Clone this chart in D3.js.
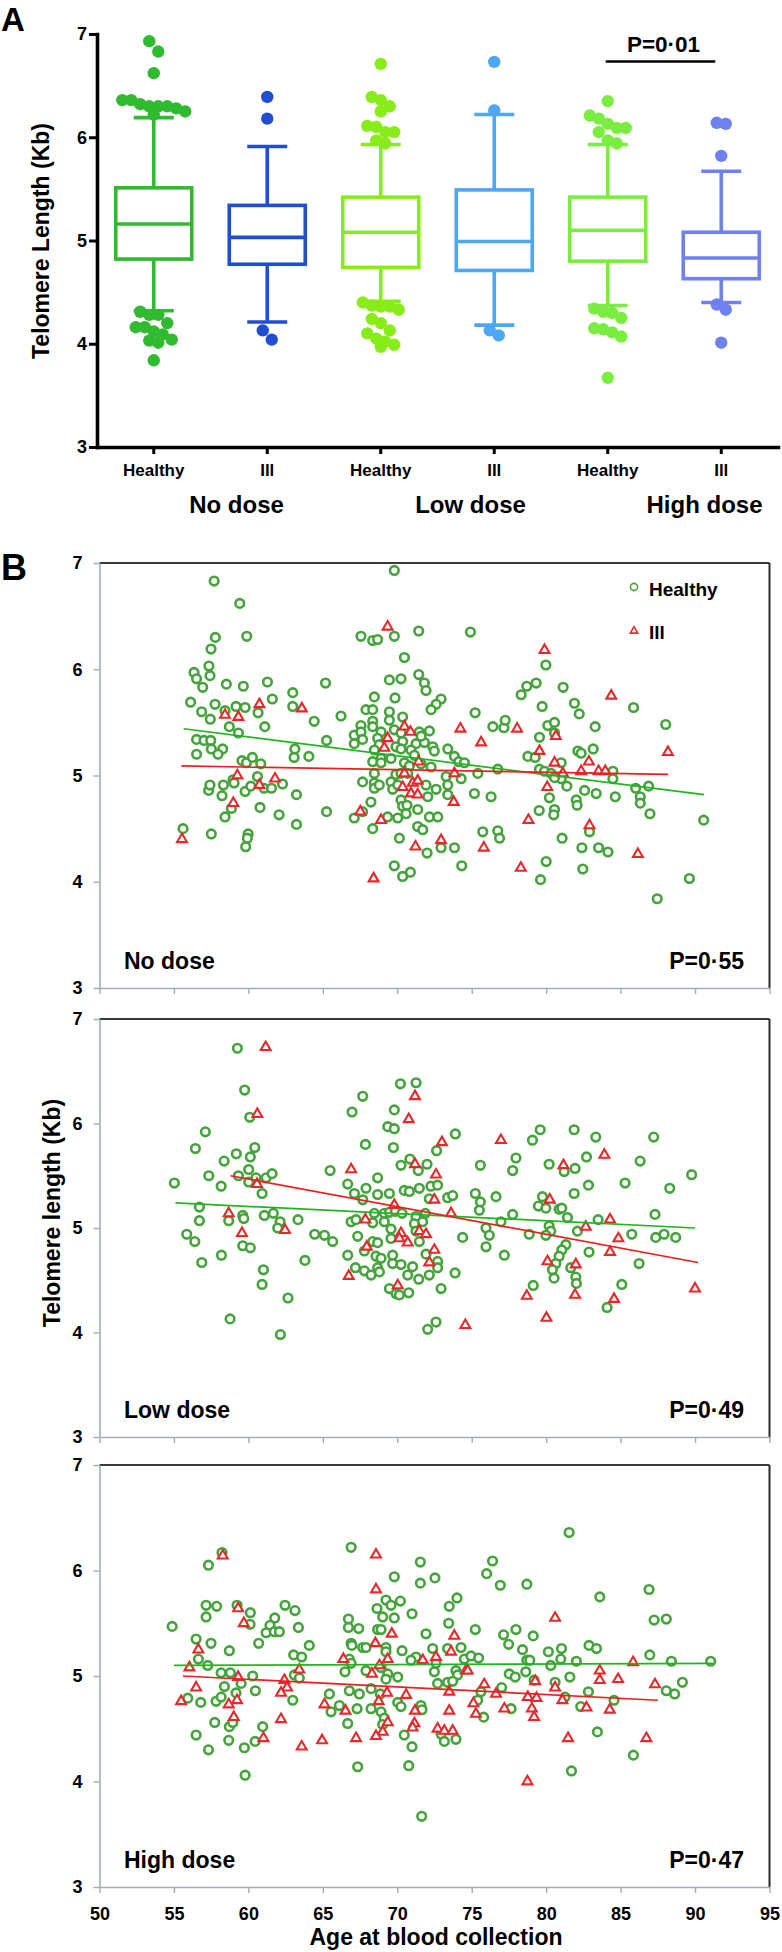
<!DOCTYPE html>
<html><head><meta charset="utf-8">
<script src="https://cdn.jsdelivr.net/npm/d3@7"></script>
<style>
html,body{margin:0;padding:0;background:#fff;}
svg{display:block;}
</style></head><body>
<svg id="chart" width="782" height="1952"></svg>
<script>
// ================= DATA =================
// Panel A (box plots)
const doseGroups = ["No dose", "Low dose", "High dose"];
const boxCategories = ["Healthy", "Ill", "Healthy", "Ill", "Healthy", "Ill"];
const whiskerHigh = [6.19, 5.91, 5.93, 6.22, 5.93, 5.67];
const q3Values = [5.51, 5.34, 5.42, 5.49, 5.42, 5.08];
const medianValues = [5.16, 5.03, 5.08, 4.99, 5.10, 4.83];
const q1Values = [4.82, 4.77, 4.74, 4.71, 4.80, 4.63];
const whiskerLow = [4.32, 4.21, 4.41, 4.18, 4.37, 4.40];
const outNoHealthy = [6.93, 6.83, 6.62, 6.36, 6.36, 6.32, 6.30, 6.30, 6.30, 6.28, 6.25, 6.22,
  4.31, 4.28, 4.28, 4.20, 4.16, 4.16, 4.12, 4.09, 4.04, 4.03, 4.01, 3.84];
const outNoIll = [6.39, 6.18, 4.13, 4.04];
const outLowHealthy = [6.71, 6.39, 6.36, 6.30, 6.25, 6.11, 6.10, 6.05, 6.05, 5.97, 5.94,
  4.40, 4.37, 4.36, 4.36, 4.33, 4.24, 4.20, 4.13, 4.10, 4.05, 4.02, 3.99, 3.97];
const outLowIll = [6.73, 6.26, 4.13, 4.08];
const outHighHealthy = [6.35, 6.21, 6.18, 6.13, 6.09, 6.09, 6.05, 5.97, 5.94,
  4.34, 4.31, 4.30, 4.25, 4.15, 4.14, 4.11, 4.07, 3.67];
const outHighIll = [6.14, 6.13, 5.82, 4.38, 4.33, 4.01];
const yTicksA = [3, 4, 5, 6, 7];
const pValueA = "P=0\u00b701";

// Panel B (scatter: [age, telomere length])
const noDoseHealthy = [[57.7,6.83],[59.42,6.62],[57.78,6.30],[59.89,6.31],[57.49,6.19],[56.35,5.97],[56.52,5.91],[57.35,6.03],[57.42,5.94],[56.93,5.83],[58.52,5.86],[59.66,5.84],[61.28,5.88],[56.12,5.69],[56.86,5.60],[57.76,5.67],[58.43,5.61],[59.17,5.65],[59.78,5.64],[57.44,5.53],[58.72,5.46],[59.33,5.40],[60.65,5.59],[61.10,5.46],[61.61,5.72],[62.98,5.78],[62.98,5.65],[64.42,5.51],[56.52,5.34],[57.02,5.33],[57.47,5.33],[57.51,5.25],[58.27,5.25],[56.52,5.20],[57.96,5.20],[63.12,5.25],[63.07,5.17],[64.06,5.18],[59.57,5.14],[59.87,5.12],[60.27,5.17],[60.83,5.11],[58.97,4.96],[60.61,4.99],[57.33,4.86],[57.42,4.91],[58.32,4.91],[58.23,4.81],[59.04,4.93],[59.78,4.85],[60.16,4.90],[61.05,4.88],[61.55,4.88],[62.29,4.92],[63.23,4.82],[58.86,4.69],[58.43,4.61],[60.78,4.70],[62.06,4.63],[63.23,4.54],[55.61,4.50],[57.51,4.45],[59.98,4.45],[59.93,4.41],[59.82,4.33],
[67.56,6.31],[68.35,6.27],[68.68,6.28],[69.80,6.31],[71.44,6.36],[74.91,6.35],[70.48,6.11],[65.18,5.87],[69.47,5.90],[70.25,5.91],[71.44,5.95],[71.82,5.87],[71.93,5.80],[68.46,5.74],[69.85,5.73],[72.94,5.72],[72.61,5.67],[72.27,5.62],[67.90,5.62],[68.35,5.62],[66.22,5.56],[69.47,5.60],[69.47,5.52],[70.36,5.55],[68.35,5.51],[68.35,5.46],[75.23,5.59],[76.42,5.46],[77.16,5.45],[77.25,5.52],[67.56,5.47],[67.11,5.38],[67.56,5.41],[68.91,5.41],[69.80,5.43],[70.25,5.40],[71.48,5.41],[72.16,5.42],[65.25,5.33],[67.11,5.30],[67.67,5.34],[68.68,5.35],[68.79,5.29],[70.36,5.32],[71.26,5.30],[71.82,5.31],[71.60,5.37],[72.38,5.27],[72.49,5.23],[73.39,5.25],[73.84,5.18],[74.13,5.13],[74.51,5.12],[68.46,5.24],[69.91,5.27],[70.25,5.25],[70.92,5.24],[71.15,5.19],[68.91,5.16],[69.58,5.16],[68.35,5.13],[68.91,5.12],[70.48,5.12],[70.81,5.09],[71.60,5.11],[72.27,5.08],[75.41,5.02],[76.75,5.06],[73.28,4.99],[74.29,4.97],[68.46,5.02],[69.91,5.01],[70.25,5.02],[70.70,5.02],[67.67,4.94],[68.46,4.93],[68.46,4.88],[68.79,4.91],[69.58,4.94],[69.69,4.87],[70.03,4.91],[71.93,4.91],[72.61,4.87],[73.39,4.91],[73.39,4.82],[75.18,4.83],[76.30,4.80],[68.23,4.75],[70.25,4.77],[70.36,4.71],[70.65,4.72],[72.05,4.80],[71.37,4.68],[65.25,4.66],[67.11,4.60],[67.67,4.66],[69.35,4.61],[70.03,4.60],[70.59,4.64],[72.16,4.61],[72.72,4.61],[71.37,4.52],[71.71,4.49],[68.35,4.50],[70.14,4.41],[75.74,4.47],[76.75,4.48],[76.87,4.41],[72.00,4.27],[72.94,4.32],[73.84,4.32],[69.80,4.15],[70.36,4.05],[70.88,4.09],[74.33,4.15],[69.8,6.93],
[79.98,6.04],[81.14,5.83],[78.32,5.76],[78.70,5.84],[79.33,5.87],[79.73,5.65],[81.90,5.68],[82.22,5.58],[83.29,5.46],[85.87,5.64],[88.03,5.48],[79.55,5.36],[80.11,5.47],[80.56,5.50],[80.56,5.40],[82.13,5.23],[82.35,5.21],[83.16,5.25],[78.77,5.18],[79.26,5.17],[79.55,5.06],[79.89,5.04],[80.33,5.02],[81.01,5.12],[81.01,4.97],[80.56,4.98],[81.39,4.90],[82.58,4.86],[83.36,4.83],[84.48,5.04],[84.48,4.97],[84.64,4.80],[86.01,4.88],[86.32,4.80],[86.32,4.74],[86.88,4.90],[86.97,4.64],[90.58,4.58],[79.53,4.67],[80.56,4.68],[80.51,4.63],[80.22,4.79],[82.02,4.77],[82.08,4.72],[82.91,4.47],[81.07,4.41],[82.40,4.32],[83.52,4.32],[84.15,4.28],[80.00,4.19],[79.62,4.02],[82.46,4.12],[87.46,3.84],[89.62,4.03]];
const noDoseIll = [[58.43,5.57],[59.33,5.55],[60.74,5.67],[63.59,5.63],[59.26,5.00],[60.74,4.91],[61.79,4.97],[58.99,4.74],[55.54,4.40],
[69.35,6.40],[70.48,5.46],[70.88,5.41],[74.24,5.44],[75.63,5.31],[78.05,5.44],[69.35,5.35],[69.13,5.26],[71.44,5.13],[70.48,5.02],[73.84,5.02],[71.04,4.93],[71.37,4.95],[70.36,4.89],[70.92,4.83],[71.37,4.82],[73.79,4.75],[67.52,4.66],[68.91,4.58],[72.94,4.39],[71.22,4.33],[75.81,4.32],[68.41,4.03],
[79.89,6.18],[84.37,5.75],[80.65,5.37],[79.55,5.23],[80.56,5.12],[82.87,5.13],[82.35,5.04],[83.52,5.04],[83.97,5.04],[81.12,5.02],[80.07,4.89],[82.91,4.53],[78.81,4.58],[78.3,4.13],[86.16,4.26],[88.18,5.22]];
const lowDoseHealthy = [[59.26,6.72],[59.75,6.32],[60.09,6.06],[57.11,5.92],[56.44,5.76],[60.43,5.77],[59.19,5.71],[60.13,5.68],[58.37,5.64],[57.34,5.50],[59.33,5.50],[60.02,5.56],[60.02,5.44],[60.51,5.48],[61.19,5.48],[61.59,5.52],[55.03,5.43],[58.17,5.40],[60.92,5.33],[56.71,5.20],[56.71,5.07],[58.68,5.07],[59.62,5.12],[59.69,5.09],[61.07,5.12],[61.68,5.14],[62.13,5.06],[61.97,5.00],[63.33,5.08],[55.86,4.94],[56.40,4.87],[59.62,4.83],[60.13,4.81],[64.45,4.94],[58.19,4.74],[56.87,4.67],[61.01,4.60],[60.92,4.46],[62.66,4.33],[63.80,4.69],[58.77,4.13],[62.15,3.98],
[70.21,6.38],[71.26,6.39],[67.68,6.26],[66.96,6.11],[69.80,6.13],[69.36,5.97],[69.80,5.95],[73.90,5.90],[67.86,5.80],[69.74,5.77],[72.64,5.74],[70.85,5.66],[70.25,5.60],[72.00,5.61],[71.41,5.55],[75.58,5.60],[77.97,5.67],[77.75,5.55],[65.49,5.55],[68.68,5.48],[66.67,5.42],[67.90,5.38],[67.12,5.33],[68.68,5.32],[69.47,5.33],[70.47,5.36],[70.81,5.35],[71.48,5.38],[72.26,5.40],[72.71,5.41],[73.38,5.29],[73.72,5.31],[72.15,5.28],[75.24,5.33],[75.58,5.25],[75.51,5.17],[76.63,5.30],[67.68,5.27],[68.46,5.14],[69.13,5.14],[69.47,5.15],[69.87,5.16],[70.32,5.14],[71.26,5.11],[71.88,5.14],[66.90,5.06],[67.23,5.08],[71.15,5.04],[71.70,5.06],[77.75,5.13],[76.96,5.06],[65.11,4.93],[67.34,4.92],[68.35,5.05],[69.13,5.06],[69.58,4.99],[69.58,4.90],[71.26,4.97],[71.48,4.87],[74.39,4.91],[75.96,5.00],[76.18,4.93],[65.66,4.87],[67.79,4.78],[68.35,4.87],[68.68,4.86],[71.93,4.75],[72.71,4.68],[66.67,4.74],[68.57,4.73],[68.91,4.71],[69.69,4.74],[69.69,4.66],[68.68,4.62],[70.25,4.65],[71.03,4.63],[72.15,4.55],[72.71,4.62],[67.19,4.62],[67.79,4.59],[68.24,4.55],[68.80,4.58],[70.70,4.55],[71.44,4.51],[73.88,4.57],[69.47,4.42],[69.92,4.37],[70.14,4.36],[70.77,4.38],[72.94,4.42],[75.96,4.82],[77.19,4.74],[72.60,4.10],[72.04,4.03],
[79.08,5.84],[79.60,5.94],[81.88,5.94],[83.33,5.87],[87.22,5.87],[80.20,5.61],[81.94,5.57],[81.21,5.54],[82.71,5.68],[82.84,5.41],[85.30,5.43],[86.31,5.64],[88.30,5.38],[89.77,5.51],[81.88,5.33],[79.75,5.30],[79.48,5.21],[79.98,5.19],[80.87,5.18],[81.05,5.19],[81.43,5.10],[83.49,5.08],[87.31,5.13],[78.86,4.94],[80.20,5.02],[80.31,4.97],[79.98,4.93],[82.10,4.97],[81.32,4.84],[81.05,4.79],[80.87,4.73],[80.65,4.66],[80.42,4.60],[80.53,4.52],[81.65,4.62],[81.99,4.53],[82.03,4.47],[82.88,4.77],[85.75,4.94],[87.36,4.91],[87.92,4.94],[88.70,4.91],[86.24,4.66],[85.08,4.46],[79.13,4.45],[84.09,4.24]];
const lowDoseIll = [[61.16,6.73],[60.60,6.09],[58.68,5.14],[59.57,4.95],[62.46,4.98],[60.58,5.42],
[71.19,6.26],[70.77,6.04],[73.00,5.82],[76.96,5.84],[66.90,5.56],[71.19,5.61],[72.60,5.51],[72.49,5.27],[69.80,5.22],[73.61,5.14],[67.86,5.08],[70.25,4.95],[70.14,4.90],[70.70,4.86],[71.48,4.97],[71.93,4.94],[67.95,4.82],[72.49,4.79],[72.15,4.67],[66.74,4.54],[70.03,4.45],[74.57,4.07],
[81.16,5.60],[83.91,5.70],[80.24,5.27],[82.66,5.01],[84.29,5.08],[84.85,4.90],[84.29,4.77],[80.09,4.68],[81.99,4.65],[81.94,4.36],[78.70,4.35],[84.56,4.32],[80.02,4.14],[90.00,4.42]];
const highDoseHealthy = [[58.23,6.17],[57.32,6.05],[54.88,5.47],[57.16,5.67],[57.87,5.66],[57.16,5.56],[56.49,5.35],[57.49,5.31],[56.64,5.16],[57.27,5.10],[58.72,5.24],[58.17,5.03],[59.24,5.67],[60.13,5.60],[60.11,5.49],[60.69,5.31],[61.77,5.55],[61.45,5.48],[61.19,5.41],[61.74,5.42],[62.08,5.42],[62.46,5.67],[63.13,5.62],[63.36,5.46],[64.09,5.29],[63.04,5.20],[63.58,5.18],[63.09,5.01],[63.42,4.98],[60.29,5.00],[60.47,4.86],[58.79,5.03],[58.39,4.90],[59.17,4.84],[59.51,4.93],[55.93,4.79],[56.80,4.75],[57.83,4.76],[58.17,4.80],[62.98,4.77],[56.49,4.44],[57.32,4.30],[57.74,4.56],[58.72,4.52],[58.68,4.39],[58.95,4.56],[59.73,4.32],[60.45,4.38],[60.96,4.52],[59.78,4.06],
[66.90,6.22],[71.55,6.08],[76.40,6.09],[76.00,5.97],[76.92,5.86],[69.80,5.94],[71.55,5.88],[72.53,5.93],[74.01,5.74],[73.49,5.66],[69.24,5.72],[69.58,5.67],[70.21,5.71],[68.64,5.64],[69.02,5.56],[69.80,5.55],[70.99,5.59],[66.72,5.54],[66.72,5.46],[67.41,5.45],[68.68,5.44],[68.91,5.44],[71.93,5.40],[73.45,5.50],[75.24,5.44],[77.14,5.39],[77.48,5.30],[77.97,5.44],[66.90,5.31],[66.95,5.29],[67.68,5.27],[67.90,5.27],[69.24,5.27],[69.24,5.23],[70.32,5.24],[72.38,5.26],[74.28,5.27],[71.26,5.18],[70.92,5.15],[73.38,5.26],[74.50,5.16],[74.95,5.19],[75.46,5.17],[66.78,5.16],[66.90,5.12],[66.49,5.04],[67.90,5.05],[68.91,5.08],[69.36,5.02],[69.24,4.97],[70.03,4.99],[72.49,5.04],[72.60,5.12],[73.94,5.05],[74.05,5.01],[77.52,5.02],[77.92,4.99],[72.71,4.93],[73.38,4.94],[73.72,4.95],[68.24,4.88],[68.86,4.83],[67.45,4.83],[66.78,4.86],[65.44,4.83],[66.11,4.72],[65.55,4.66],[67.30,4.69],[68.24,4.69],[68.91,4.66],[70.03,4.75],[70.25,4.71],[71.59,4.72],[71.66,4.68],[75.40,4.77],[77.01,4.89],[77.64,4.69],[75.80,4.61],[66.67,4.55],[69.13,4.60],[69.02,4.54],[70.47,4.44],[70.99,4.33],[72.94,4.45],[73.16,4.38],[73.94,4.40],[67.34,4.14],[70.77,4.15],[71.64,3.67],[75.62,4.85],
[81.54,6.36],[78.70,5.87],[83.60,5.75],[86.91,5.82],[87.25,5.53],[88.07,5.54],[79.13,5.38],[78.41,5.25],[80.15,5.23],[81.03,5.26],[80.98,5.16],[82.88,5.29],[83.38,5.26],[82.03,5.14],[80.31,5.10],[78.70,5.15],[78.90,5.15],[86.96,5.20],[88.41,5.14],[91.05,5.14],[78.63,5.04],[81.59,4.99],[79.19,4.96],[80.60,4.94],[81.27,4.80],[82.84,4.85],[84.56,4.77],[88.07,4.86],[88.63,4.83],[89.15,4.94],[82.32,4.71],[83.44,4.47],[85.86,4.25],[81.70,4.10]];
const highDoseIll = [[58.28,6.14],[56.64,5.25],[56.04,5.08],[59.31,5.64],[59.69,5.50],[63.42,5.06],[56.49,4.89],[55.48,4.76],[58.68,4.73],[59.24,4.77],[59.31,4.99],[59.02,4.61],[62.42,4.96],[62.60,4.89],[62.19,4.84],[62.19,4.59],[61.01,4.41],[63.58,4.33],
[68.57,6.15],[68.57,5.82],[69.63,5.40],[73.83,5.38],[68.53,5.31],[66.38,5.16],[69.36,5.16],[71.71,5.15],[72.60,5.18],[73.61,5.23],[68.80,5.10],[68.30,5.02],[74.61,5.05],[74.73,5.05],[75.84,4.92],[76.63,4.83],[73.49,4.85],[69.31,4.84],[70.59,4.82],[68.75,4.76],[65.11,4.73],[66.52,4.67],[71.19,4.67],[73.49,4.67],[75.11,4.74],[75.28,4.64],[77.19,4.69],[69.36,4.56],[71.15,4.55],[71.03,4.51],[72.71,4.50],[73.16,4.48],[73.72,4.48],[69.02,4.47],[68.57,4.43],[67.23,4.41],[64.95,4.39],
[80.60,5.55],[85.84,5.13],[83.60,5.05],[83.60,4.96],[84.83,4.97],[87.31,4.92],[79.26,4.95],[80.60,4.89],[81.09,4.77],[78.77,4.80],[79.35,4.79],[79.04,4.69],[79.19,4.61],[82.71,4.70],[84.27,4.68],[81.47,4.41],[86.73,4.41],[78.74,4.00]];
// fitted regression line end points [age, value]
const noDoseHealthyFit = [[55.65,5.44],[90.6,4.82]];
const noDoseIllFit = [[55.5,5.09],[88.2,5.01]];
const lowDoseHealthyFit = [[55.1,5.24],[90.0,5.00]];
const lowDoseIllFit = [[58.8,5.50],[90.2,4.67]];
const highDoseHealthyFit = [[55.0,5.10],[91.2,5.12]];
const highDoseIllFit = [[55.6,5.00],[87.5,4.77]];
const pValuesB = ["P=0\u00b755", "P=0\u00b749", "P=0\u00b747"];
const ageTicks = [50, 55, 60, 65, 70, 75, 80, 85, 90, 95];
const yTicksB = [3, 4, 5, 6, 7];

// ================= DRAWING =================
const FONT = "'Liberation Sans', Arial, Helvetica, sans-serif";
const svg = d3.select("#chart");
svg.append("rect").attr("width", 782).attr("height", 1952).attr("fill", "#fff");

function txt(g, x, y, s, size, anchor) {
  return g.append("text").attr("x", x).attr("y", y).text(s)
    .attr("font-family", FONT).attr("font-weight", "bold").attr("font-size", size)
    .attr("text-anchor", anchor || "start").attr("fill", "#000");
}

// ---------- Panel A ----------
const boxColors = ["#2fba2f", "#1f4ed0", "#88ec18", "#4ea7f2", "#7aee40", "#6f80f0"];
const outlierSets = [outNoHealthy, outNoIll, outLowHealthy, outLowIll, outHighHealthy, outHighIll];
const yA = d3.scaleLinear().domain([3, 7]).range([447, 34]);
const xA = d3.scaleBand().domain(d3.range(6)).range([97, 778]).padding(0);
const bw = xA.bandwidth();
const gA = svg.append("g");

txt(gA, 1, 31, "A", 33, "start");

// boxes
const boxW = 76, capW = 40;
d3.range(6).forEach(i => {
  const cx = xA(i) + bw / 2, col = boxColors[i];
  const g = gA.append("g").attr("stroke", col).attr("stroke-width", 3.6).attr("fill", "none");
  g.append("line").attr("x1", cx).attr("x2", cx).attr("y1", yA(whiskerHigh[i])).attr("y2", yA(q3Values[i]));
  g.append("line").attr("x1", cx).attr("x2", cx).attr("y1", yA(q1Values[i])).attr("y2", yA(whiskerLow[i]));
  g.append("line").attr("x1", cx - capW / 2).attr("x2", cx + capW / 2).attr("y1", yA(whiskerHigh[i])).attr("y2", yA(whiskerHigh[i]));
  g.append("line").attr("x1", cx - capW / 2).attr("x2", cx + capW / 2).attr("y1", yA(whiskerLow[i])).attr("y2", yA(whiskerLow[i]));
  g.append("rect").attr("x", cx - boxW / 2).attr("width", boxW)
    .attr("y", yA(q3Values[i])).attr("height", yA(q1Values[i]) - yA(q3Values[i])).attr("fill", "#fff");
  g.append("line").attr("x1", cx - boxW / 2).attr("x2", cx + boxW / 2).attr("y1", yA(medianValues[i])).attr("y2", yA(medianValues[i]));

  // outliers: binned scatter (points in the same vertical bin spread side by side)
  const r = 6.2, binH = 2 * r, spacing = r * 1.45;
  const sorted = outlierSets[i].slice().sort((a, b) => b - a);
  const bins = [];
  sorted.forEach(v => {
    const py = yA(v);
    const last = bins[bins.length - 1];
    if (last && py - last.y0 < binH) last.pts.push(py);
    else bins.push({ y0: py, pts: [py] });
  });
  const placed = [];
  bins.forEach(b => {
    const n = b.pts.length;
    b.pts.forEach((py, j) => placed.push({ x: (j - (n - 1) / 2) * spacing, y: py }));
  });
  gA.append("g").selectAll("circle").data(placed).join("circle")
    .attr("cx", d => cx + d.x).attr("cy", d => d.y).attr("r", r).attr("fill", col);
});

// axes A
gA.append("g").attr("transform", "translate(97,0)")
  .call(d3.axisLeft(yA).tickValues(yTicksA).tickFormat(d3.format("d")).tickSize(8).tickSizeOuter(0).tickPadding(2))
  .call(g => {
    g.attr("font-family", FONT).attr("font-size", 18).attr("font-weight", "bold");
    g.select(".domain").attr("stroke", "#000").attr("stroke-width", 3.6).attr("stroke-linecap", "square");
    g.selectAll(".tick line").attr("stroke", "#000").attr("stroke-width", 3);
    g.selectAll(".tick text").attr("fill", "#000");
  });
gA.append("g").attr("transform", "translate(0,447)")
  .call(d3.axisBottom(xA).tickFormat(i => boxCategories[i]).tickSize(7).tickSizeOuter(0))
  .call(g => {
    g.attr("font-family", FONT).attr("font-size", 17).attr("font-weight", "bold");
    g.select(".domain").attr("stroke", "#000").attr("stroke-width", 3.6).attr("stroke-linecap", "square");
    g.selectAll(".tick line").attr("stroke", "#000").attr("stroke-width", 3);
    g.selectAll(".tick text").attr("fill", "#000").attr("y", 29).attr("dy", "0");
  });
// dose group labels (sit slightly right of each Healthy/Ill pair, as in the reference)
doseGroups.forEach((d, k) => {
  txt(gA, xA(2 * k) + bw + 26 + 7 * k, 513, d, 24, "middle");
});
txt(gA, 0, 0, "Telomere Length (Kb)", 23, "middle").attr("transform", "translate(49,241) rotate(-90)");

// significance bracket
gA.append("line").attr("x1", xA(4) + bw / 2 - 2).attr("x2", xA(5) + bw / 2 - 6)
  .attr("y1", 61.5).attr("y2", 61.5).attr("stroke", "#000").attr("stroke-width", 2.6);
txt(gA, (xA(4) + xA(5)) / 2 + bw / 2 - 1, 51.5, pValueA, 22.5, "middle");

// ---------- Panel B ----------
const xB = d3.scaleLinear().domain([50, 95]).range([99.5, 769.5]);
const panels = [
  { name: doseGroups[0], p: pValuesB[0], healthy: noDoseHealthy, ill: noDoseIll, gFit: noDoseHealthyFit, rFit: noDoseIllFit, top: 563, bottom: 988 },
  { name: doseGroups[1], p: pValuesB[1], healthy: lowDoseHealthy, ill: lowDoseIll, gFit: lowDoseHealthyFit, rFit: lowDoseIllFit, top: 1019, bottom: 1437 },
  { name: doseGroups[2], p: pValuesB[2], healthy: highDoseHealthy, ill: highDoseIll, gFit: highDoseHealthyFit, rFit: highDoseIllFit, top: 1465, bottom: 1887 }
];
const greenMark = "#45a33c", redMark = "#e5292a";
const triSym = d3.symbol(d3.symbolTriangle).size(42);
const gB = svg.append("g");
txt(gB, 1, 580, "B", 36, "start");

panels.forEach((p, i) => {
  const y = d3.scaleLinear().domain([3, 7]).range([p.bottom, p.top]);
  const g = gB.append("g");
  // frame (top and right borders)
  g.append("line").attr("x1", xB(50)).attr("x2", xB(95)).attr("y1", y(7)).attr("y2", y(7))
    .attr("stroke", "#3a3a3a").attr("stroke-width", 2);
  g.append("line").attr("x1", xB(95)).attr("x2", xB(95)).attr("y1", y(7)).attr("y2", y(3))
    .attr("stroke", "#2a2a2a").attr("stroke-width", 2);
  // axes
  g.append("g").attr("transform", `translate(${xB(50)},0)`)
    .call(d3.axisLeft(y).tickValues(yTicksB).tickFormat(d3.format("d")).tickSize(6).tickSizeOuter(0).tickPadding(11))
    .call(a => {
      a.attr("font-family", FONT).attr("font-size", 18).attr("font-weight", "bold");
      a.select(".domain").attr("stroke", "#a3acb4").attr("stroke-width", 1.6);
      a.selectAll(".tick line").attr("stroke", "#a3acb4").attr("stroke-width", 1.4);
      a.selectAll(".tick text").attr("fill", "#000");
    });
  g.append("g").attr("transform", `translate(0,${y(3)})`)
    .call(d3.axisBottom(xB).tickValues(ageTicks).tickFormat(i === 2 ? d3.format("d") : () => "").tickSize(6).tickSizeOuter(0))
    .call(a => {
      a.attr("font-family", FONT).attr("font-size", 18).attr("font-weight", "bold");
      a.select(".domain").attr("stroke", "#a3acb4").attr("stroke-width", 1.6);
      a.selectAll(".tick line").attr("stroke", "#a3acb4").attr("stroke-width", 1.4);
      a.selectAll(".tick text").attr("fill", "#000").attr("y", 33).attr("dy", "0");
    });
  // points
  g.append("g").selectAll("circle").data(p.healthy).join("circle")
    .attr("cx", d => xB(d[0])).attr("cy", d => y(d[1])).attr("r", 4.3)
    .attr("fill", "#fff").attr("stroke", greenMark).attr("stroke-width", 2.6);
  g.append("g").selectAll("path").data(p.ill).join("path")
    .attr("d", triSym).attr("transform", d => `translate(${xB(d[0])},${y(d[1])})`)
    .attr("fill", "#fff").attr("stroke", redMark).attr("stroke-width", 2.1);
  // fitted lines
  const line = d3.line().x(d => xB(d[0])).y(d => y(d[1]));
  g.append("path").attr("d", line(p.gFit)).attr("stroke", "#1fb51f").attr("stroke-width", 1.7).attr("fill", "none");
  g.append("path").attr("d", line(p.rFit)).attr("stroke", "#ea2020").attr("stroke-width", 1.7).attr("fill", "none");
  // labels
  txt(g, 124, y(3) - 19, p.name, 23, "start");
  txt(g, 744, y(3) - 19, p.p, 23, "end");
  if (i === 0) {
    g.append("circle").attr("cx", 634).attr("cy", 587).attr("r", 3.6)
      .attr("fill", "#fff").attr("stroke", greenMark).attr("stroke-width", 1.6);
    g.append("path").attr("d", d3.symbol(d3.symbolTriangle).size(24)).attr("transform", "translate(634,631)")
      .attr("fill", "#fff").attr("stroke", redMark).attr("stroke-width", 1.6);
    txt(g, 649, 596, "Healthy", 19, "start");
    txt(g, 649, 639, "Ill", 19, "start");
  }
});
txt(gB, 0, 0, "Telomere length (Kb)", 23, "middle").attr("transform", "translate(60,1213) rotate(-90)");
txt(gB, 436, 1945, "Age at blood collection", 23, "middle");
</script>
</body></html>
